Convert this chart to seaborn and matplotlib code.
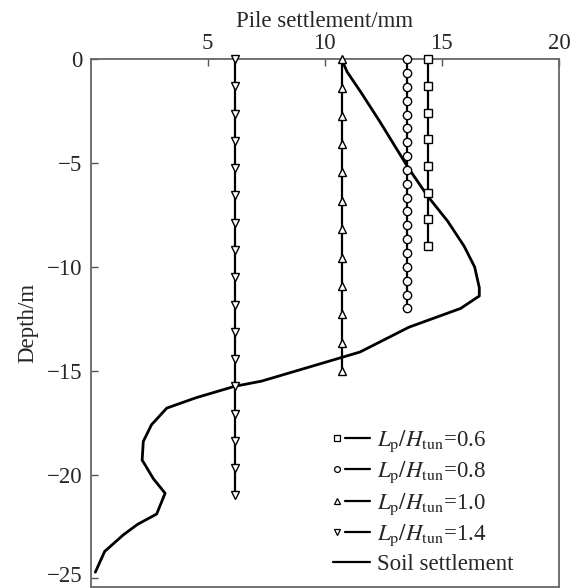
import matplotlib
matplotlib.use("Agg")
import matplotlib.pyplot as plt
import matplotlib.transforms as mtransforms
import seaborn as sns
import pandas as pd
from matplotlib.lines import Line2D
from matplotlib.legend_handler import HandlerBase

# ---------------- data ----------------
depth_06 = [0, -1.29, -2.57, -3.86, -5.14, -6.43, -7.71, -9.0]
settle_06 = [14.42] * len(depth_06)

depth_08 = [0, -0.67, -1.33, -2.0, -2.67, -3.33, -4.0, -4.67, -5.33, -6.0,
            -6.67, -7.33, -8.0, -8.67, -9.33, -10.0, -10.67, -11.33, -12.0]
settle_08 = [13.53] * len(depth_08)

depth_10 = [0, -1.36, -2.73, -4.09, -5.45, -6.82, -8.18, -9.55, -10.91,
            -12.27, -13.64, -15.0]
settle_10 = [10.72] * len(depth_10)

depth_14 = [0, -1.31, -2.63, -3.94, -5.25, -6.56, -7.88, -9.19, -10.5,
            -11.81, -13.13, -14.44, -15.75, -17.06, -18.38, -19.69, -21.0]
settle_14 = [6.15] * len(depth_14)

soil_depth = [0, -0.6, -1.6, -3.0, -5.2, -6.6, -7.8, -9.0, -10.0, -11.0, -11.4,
              -12.0, -12.9, -14.1, -14.4, -15.5, -15.75, -16.3, -16.8, -17.6,
              -18.4, -19.3, -20.2, -20.9, -21.9, -22.4, -22.9, -23.7, -24.7]
soil_settle = [10.72, 10.95, 11.55, 12.35, 13.55, 14.4, 15.25, 15.95, 16.4, 16.6, 16.6,
               15.8, 13.6, 11.5, 10.6, 7.3, 6.15, 4.5, 3.25, 2.6,
               2.25, 2.2, 2.68, 3.18, 2.82, 2.0, 1.4, 0.6, 0.2]

labels = [r"$L_{\rm p}/H_{\rm tun}$=0.6", r"$L_{\rm p}/H_{\rm tun}$=0.8",
          r"$L_{\rm p}/H_{\rm tun}$=1.0", r"$L_{\rm p}/H_{\rm tun}$=1.4",
          "Soil settlement"]
x_ticks = [5, 10, 15, 20]
y_ticks = [0, -5, -10, -15, -20, -25]

# ---------------- style ----------------
sns.set_style("ticks")
plt.rcParams["font.family"] = ["Liberation Serif", "DejaVu Serif"]
plt.rcParams["mathtext.fontset"] = "stix"
plt.rcParams["font.size"] = 16.5

fig = plt.figure(figsize=(5.81, 5.88), dpi=100)
ax = fig.add_axes([0.156, 0.0022, 0.806, 0.897])

series = [
    (settle_06, depth_06, "s", 5.5, labels[0]),
    (settle_08, depth_08, "o", 6.0, labels[1]),
    (settle_10, depth_10, "^", 5.5, labels[2]),
    (settle_14, depth_14, "v", 5.5, labels[3]),
]
for xs, ys, mk, ms, lab in series:
    df = pd.DataFrame({"s": xs, "d": ys})
    sns.lineplot(data=df, x="s", y="d", sort=False, estimator=None, ax=ax,
                 color="black", lw=1.6, marker=mk, markersize=ms,
                 markerfacecolor="white", markeredgecolor="black",
                 markeredgewidth=1.0, clip_on=False, label=lab, zorder=3)

df_soil = pd.DataFrame({"s": soil_settle, "d": soil_depth})
sns.lineplot(data=df_soil, x="s", y="d", sort=False, estimator=None, ax=ax,
             color="black", lw=2.0, label=labels[4], zorder=2)

ax.set_xlim(0, 20)
ax.set_ylim(-25.4, 0)
ax.set_xticks(x_ticks)
ax.set_yticks(y_ticks)
ax.xaxis.tick_top()
ax.xaxis.set_label_position("top")
ax.set_xlabel("Pile settlement/mm", labelpad=4)
ax.set_ylabel("Depth/m", labelpad=6)
ax.tick_params(axis="both", direction="in", length=5, width=1.0,
               color="#555555", labelsize=16.5)
ax.tick_params(axis="x", pad=4)
ax.tick_params(axis="y", pad=6)
for sp in ax.spines.values():
    sp.set_visible(True)
    sp.set_color("#666666")
    sp.set_linewidth(1.3)

# nudge the lowest depth label up so it stays inside the canvas
low_lab = ax.yaxis.get_major_ticks()[-1].label1
low_lab.set_transform(low_lab.get_transform() +
                      mtransforms.ScaledTranslation(0, 4 / 100, fig.dpi_scale_trans))


class MarkerLeftHandler(HandlerBase):
    def create_artists(self, legend, orig_handle, xdescent, ydescent,
                       width, height, fontsize, trans):
        y = height / 2 - ydescent
        x0 = -xdescent
        marker = orig_handle.get_marker()
        arts = []
        if marker in (None, "None", "", " "):
            ln = Line2D([x0, x0 + width], [y, y], color="black", lw=1.6)
            arts.append(ln)
        else:
            ln = Line2D([x0 + 0.32 * width, x0 + width], [y, y], color="black", lw=1.6)
            mk = Line2D([x0 + 0.1 * width], [y], marker=marker, markersize=4.2,
                        markerfacecolor="white", markeredgecolor="black",
                        markeredgewidth=0.9, linestyle="none")
            arts += [ln, mk]
        for a in arts:
            a.set_transform(trans)
        return arts


handles, labs = ax.get_legend_handles_labels()
ax.legend(handles, labs, handler_map={Line2D: MarkerLeftHandler()},
          loc="lower left", bbox_to_anchor=(0.518, 0.023), frameon=False,
          borderpad=0, borderaxespad=0, handlelength=1.6, handletextpad=0.3,
          labelspacing=0.25, fontsize=16.5)

fig.savefig("out.png", dpi=100)
